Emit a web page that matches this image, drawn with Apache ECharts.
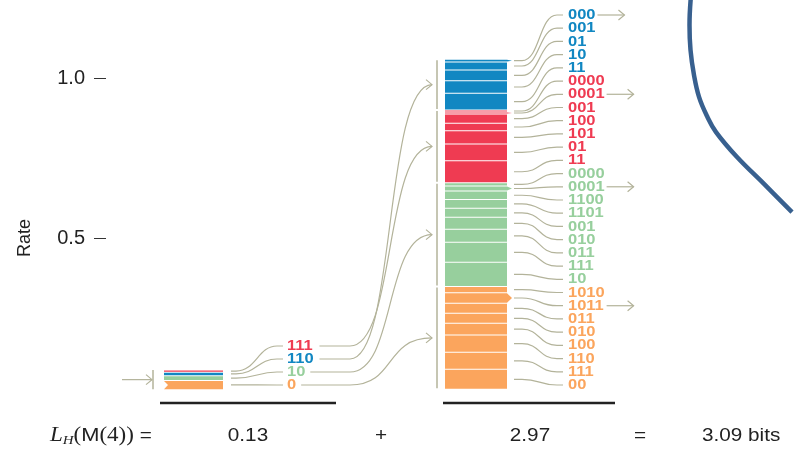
<!DOCTYPE html>
<html><head><meta charset="utf-8">
<script src="https://cdn.jsdelivr.net/npm/echarts@6/dist/echarts.min.js"></script>
<style>html,body{margin:0;padding:0;background:#fff}#c{width:800px;height:449px}</style>
</head><body><div id="c"></div>
<script>
// ---------------- DATA ----------------
const yTicks = [0.5, 1.0];
const baseRate = 0.0272;
// first-level code (left stack), bottom to top
const leftCodes = ['0', '10', '110', '111'];
const leftRates = [0.0275, 0.0150, 0.0110, 0.0069];
const leftGroups = ['orange', 'green', 'blue', 'red'];
// second-level codes (right stack), each group bottom to top
const orangeCodes = ['00', '111', '110', '100', '010', '011', '1011', '1010'];
const orangeRates = [0.0625, 0.0531, 0.0541, 0.0365, 0.0313, 0.0312, 0.0332, 0.0193];
const greenCodes = ['10', '111', '011', '010', '001', '1101', '1100', '0001', '0000'];
const greenRates = [0.0757, 0.0625, 0.0406, 0.0375, 0.0281, 0.0275, 0.0266, 0.0156, 0.0100];
const redCodes = ['11', '01', '101', '100', '001', '0001', '0000'];
const redRates = [0.0691, 0.0522, 0.0415, 0.0231, 0.0291, 0.0063, 0.0062];
const blueCodes = ['11', '10', '01', '001', '000'];
const blueRates = [0.0522, 0.0394, 0.0334, 0.0250, 0.0084];
const groupOrder = ['orange', 'green', 'red', 'blue'];
const arrowCodes = { blue: '000', red: '0001', green: '0001', orange: '1011' };
const termValues = ['0.13', '2.97', '3.09 bits'];
// decorative blue curve (x in layout units, y in rate)
const curveX = [691, 689.5, 690.5, 694, 699, 707, 716, 737, 764, 792];
const curveY = [1.259, 1.166, 1.088, 1.009, 0.941, 0.881, 0.831, 0.753, 0.669, 0.581];

// ---------------- STYLE / LAYOUT ----------------
const COL = { blue: '#1187c2', red: '#ef3b52', green: '#97cf9d', orange: '#fba55d' };
const LINK = '#b3b39a';
const FONT = '"Liberation Sans", Arial, Helvetica, sans-serif';
const LBL_FONT_SIZE = 15, LBL_SX = 1.1, DIGIT_W = 9.15;
const LAY = {
  gridLeft: 106,
  leftStack: [164, 223], rightStack: [445, 507],
  leftBracketX: 153, rightBracketX: 437,
  leftLabelX: 287, leftLabelBottom: 385, leftLabelStep: 13,
  rightLabelX: 568, rightLabelTop: 15, rightLabelBottom: 385
};
const groupData = {
  orange: [orangeCodes, orangeRates], green: [greenCodes, greenRates],
  red: [redCodes, redRates], blue: [blueCodes, blueRates]
};

function chevron(x, y) {
  return { type: 'polyline', shape: { points: [[x - 6, y - 5], [x, y], [x - 6, y + 5]] },
    style: { stroke: LINK, lineWidth: 1.2, fill: null } };
}
function path(d) {
  return { type: 'path', shape: { pathData: d }, style: { stroke: LINK, lineWidth: 1.2, fill: null } };
}
function label(text, x, y, color) {
  return { type: 'text', x, y, scaleX: LBL_SX, style: { text, x: 0, y: 0, fill: color, fontSize: LBL_FONT_SIZE,
    fontWeight: 'bold', fontFamily: FONT, align: 'left', verticalAlign: 'middle' } };
}

function renderAll(params, api) {
  const py = r => api.coord([LAY.gridLeft, r])[1];
  const ch = [];
  const nLabels = orangeCodes.length + greenCodes.length + redCodes.length + blueCodes.length;
  const step = (LAY.rightLabelBottom - LAY.rightLabelTop) / (nLabels - 1);
  const labelIdx = {};
  let k = 0;
  for (let g = groupOrder.length - 1; g >= 0; g--) {
    const name = groupOrder[g]; const codes = groupData[name][0];
    for (let i = codes.length - 1; i >= 0; i--) labelIdx[name + i] = k++;
  }
  const groupMid = {};
  let cum = baseRate;
  const [rx0, rx1] = LAY.rightStack;
  groupOrder.forEach(name => {
    const [codes, rates] = groupData[name];
    const gStart = cum;
    rates.forEach((r, i) => {
      const yb = py(cum), yt = py(cum + r);
      ch.push({ type: 'rect', shape: { x: rx0, y: yt + 0.5, width: rx1 - rx0, height: Math.max(yb - yt - 1, 0.6) },
        style: { fill: COL[name] } });
      const ym = (yb + yt) / 2;
      const ly = LAY.rightLabelTop + labelIdx[name + i] * step;
      ch.push(path(`M${rx1 + 7} ${ym} L${rx1 + 15} ${ym} C${rx1 + 33} ${ym} ${rx1 + 32} ${ly} ${rx1 + 50} ${ly} L${LAY.rightLabelX - 5} ${ly}`));
      ch.push(label(codes[i], LAY.rightLabelX, ly, COL[name]));
      if (arrowCodes[name] === codes[i]) {
        ch.push({ type: 'polygon', shape: { points: [[rx1, yt + 0.5], [rx1 + 5, ym], [rx1, yb - 0.5]] }, style: { fill: COL[name] } });
        const s = LAY.rightLabelX + codes[i].length * DIGIT_W + 2;
        ch.push({ type: 'line', shape: { x1: s, y1: ly, x2: s + 27, y2: ly }, style: { stroke: LINK, lineWidth: 1.2 } });
        ch.push(chevron(s + 27, ly));
      }
      cum += r;
    });
    const yb = py(gStart), yt = py(cum);
    groupMid[name] = (yb + yt) / 2;
    ch.push({ type: 'line', shape: { x1: LAY.rightBracketX, y1: yt + 1, x2: LAY.rightBracketX, y2: yb - 1 },
      style: { stroke: LINK, lineWidth: 1.5 } });
    ch.push(chevron(LAY.rightBracketX - 5, groupMid[name]));
  });
  cum = baseRate;
  const [lx0, lx1] = LAY.leftStack;
  leftRates.forEach((r, i) => {
    const yb = py(cum), yt = py(cum + r);
    const name = leftGroups[i];
    const ym = (yb + yt) / 2;
    if (i === 0) {
      ch.push({ type: 'polygon', shape: { points: [[lx0, yt + 0.5], [lx1, yt + 0.5], [lx1, yb], [lx0, yb], [lx0 + 4, ym]] },
        style: { fill: COL[name] } });
    } else {
      ch.push({ type: 'rect', shape: { x: lx0, y: yt + 0.5, width: lx1 - lx0, height: Math.max(yb - yt - 1, 0.8) },
        style: { fill: COL[name] } });
    }
    const ly = LAY.leftLabelBottom - i * LAY.leftLabelStep;
    ch.push(path(`M${lx1 + 8} ${ym} L${lx1 + 13} ${ym} C${lx1 + 33} ${ym} ${lx1 + 35} ${ly} ${lx1 + 54} ${ly} L${LAY.leftLabelX - 4} ${ly}`));
    ch.push(label(leftCodes[i], LAY.leftLabelX, ly, COL[name]));
    const s = LAY.leftLabelX + leftCodes[i].length * DIGIT_W + 5;
    const ty = groupMid[name];
    const tx = LAY.rightBracketX - 5;
    ch.push(path(`M${s} ${ly} L350 ${ly} C396 ${ly} 384 ${ty} ${tx} ${ty}`));
    cum += r;
  });
  const lyb = py(baseRate), lyt = py(cum);
  ch.push({ type: 'line', shape: { x1: LAY.leftBracketX, y1: lyt, x2: LAY.leftBracketX, y2: lyb },
    style: { stroke: LINK, lineWidth: 1.5 } });
  const lmid = (lyb + lyt) / 2;
  ch.push({ type: 'line', shape: { x1: 122, y1: lmid, x2: LAY.leftBracketX - 1, y2: lmid }, style: { stroke: LINK, lineWidth: 1.2 } });
  ch.push(chevron(LAY.leftBracketX - 1, lmid));
  const ruleY = py(0) + 5;
  ch.push({ type: 'line', shape: { x1: 160, y1: ruleY, x2: 336, y2: ruleY }, style: { stroke: '#222', lineWidth: 2.5 } });
  ch.push({ type: 'line', shape: { x1: 443, y1: ruleY, x2: 615, y2: ruleY }, style: { stroke: '#222', lineWidth: 2.5 } });
  return { type: 'group', children: ch };
}

const chart = echarts.init(document.getElementById('c'));
const TXT = { fontFamily: FONT, fontSize: 18, fill: '#222', verticalAlign: 'middle' };
const SX = 1.15;
chart.setOption({
  animation: false,
  grid: { left: LAY.gridLeft, right: 0, top: 78, bottom: 51 },
  xAxis: { type: 'value', min: LAY.gridLeft, max: 800, show: false },
  yAxis: {
    type: 'value', min: 0, max: 1, interval: 0.5,
    name: 'Rate', nameLocation: 'middle', nameGap: 72, nameRotate: 90,
    nameTextStyle: { fontFamily: FONT, fontSize: 18, color: '#222' },
    axisLine: { show: false }, splitLine: { show: false },
    axisTick: { show: true, customValues: yTicks, length: 12, lineStyle: { color: '#333', width: 1 } },
    axisLabel: { customValues: yTicks, formatter: v => v.toFixed(1), margin: 21,
      fontFamily: FONT, fontSize: 20, color: '#222' }
  },
  series: [
    { type: 'custom', data: [[LAY.gridLeft, 0]], clip: false, renderItem: renderAll, silent: true },
    { type: 'line', data: curveX.map((x, i) => [x, curveY[i]]), smooth: 0.4, symbol: 'none', clip: false,
      lineStyle: { color: '#38608f', width: 4.5, cap: 'butt' }, silent: true }
  ],
  graphic: [
    { type: 'text', x: 50, y: 436, scaleX: SX, style: { ...TXT,
      text: '{i|L}{s|H}{p|(}{m|M}{p|(4))} =',
      rich: { i: { fontFamily: '"Liberation Serif", serif', fontStyle: 'italic', fontSize: 20 },
        s: { fontFamily: '"Liberation Serif", serif', fontStyle: 'italic', fontSize: 13, padding: [9, 0, 0, 0] },
        p: { fontFamily: '"Liberation Serif", serif', fontSize: 20 },
        m: { fontFamily: FONT, fontSize: 19 } } } },
    { type: 'text', x: 248, y: 436, scaleX: SX, style: { ...TXT, text: termValues[0], align: 'center' } },
    { type: 'text', x: 381, y: 436, scaleX: SX, style: { ...TXT, text: '+', align: 'center' } },
    { type: 'text', x: 530, y: 436, scaleX: SX, style: { ...TXT, text: termValues[1], align: 'center' } },
    { type: 'text', x: 640, y: 436, scaleX: SX, style: { ...TXT, text: '=', align: 'center' } },
    { type: 'text', x: 702, y: 436, scaleX: SX, style: { ...TXT, text: termValues[2], align: 'left' } }
  ]
});
</script>
</body></html>
